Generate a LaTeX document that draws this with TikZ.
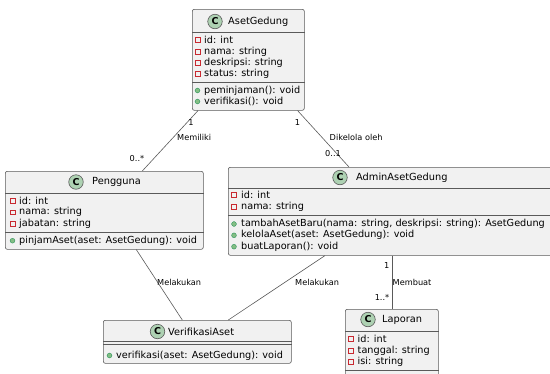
\documentclass[tikz,border=0pt]{standalone}
\usepackage{fontspec}
\setmainfont{DejaVu Sans}
\usetikzlibrary{calc}
\definecolor{linec}{HTML}{5A5A5A}
\definecolor{boxfill}{HTML}{F1F1F1}
\definecolor{cgreen}{HTML}{ADD1B2}
\definecolor{privred}{HTML}{C82930}
\definecolor{pubgreen}{HTML}{84BE84}
\definecolor{pubdark}{HTML}{038048}
\begin{document}
\begin{tikzpicture}[x=1pt,y=-1pt,
  classbox/.style={draw=linec, fill=boxfill, rounded corners=2pt, line width=0.6pt, inner sep=0, anchor=north west},
  cname/.style={font=\fontsize{9.8}{12}\selectfont, anchor=west, inner sep=0},
  member/.style={font=\fontsize{9.7}{11}\selectfont, anchor=west, inner sep=0},
  cicon/.style={circle, draw=linec, fill=cgreen, minimum size=14.5pt, inner sep=0, line width=0.6pt, font=\fontsize{9.5}{9.5}\selectfont\bfseries},
  priv/.style={rectangle, draw=privred, fill=boxfill, minimum width=4.8pt, minimum height=4.8pt, inner sep=0, line width=0.75pt},
  pub/.style={circle, fill=pubgreen, draw=pubdark!70!pubgreen, minimum size=4.8pt, inner sep=0, line width=0.4pt},
  lbl/.style={font=\fontsize{8.2}{10}\selectfont, inner sep=0},
  sep/.style={draw=linec, line width=0.6pt},
  assoc/.style={draw=linec, line width=0.6pt}]
\useasboundingbox (0,0) rectangle (550,373);

% ---------------- AsetGedung
\node[classbox, minimum width=112pt, minimum height=101pt] (ag) at (192,9) {};
\node[cicon] (agc) at (215,21.5) {C};
\node[cname] (agn) at (228,21.5) {AsetGedung};
\draw[sep] (ag.west |- 0,32) -- (ag.east |- 0,32);
\draw[sep] (ag.west |- 0,82) -- (ag.east |- 0,82);
\node[priv] (ag1i) at (197.5,40) {};   \node[member] (ag1) at (204,40) {id: int};
\node[priv] (ag2i) at (197.5,51.5) {}; \node[member] (ag2) at (204,51.5) {nama: string};
\node[priv] (ag3i) at (197.5,63) {};   \node[member] (ag3) at (204,63) {deskripsi: string};
\node[priv] (ag4i) at (197.5,74) {};   \node[member] (ag4) at (204,74) {status: string};
\node[pub] (ag5i) at (197.5,90.5) {};  \node[member] (ag5) at (204,90.5) {peminjaman(): void};
\node[pub] (ag6i) at (197.5,101.5) {}; \node[member] (ag6) at (204,101.5) {verifikasi(): void};

% ---------------- Pengguna
\node[classbox, minimum width=198pt, minimum height=78pt] (pg) at (5,171) {};
\node[cicon] (pgc) at (76,182) {C};
\node[cname] (pgn) at (92,182) {Pengguna};
\draw[sep] (pg.west |- 0,193) -- (pg.east |- 0,193);
\draw[sep] (pg.west |- 0,232) -- (pg.east |- 0,232);
\node[priv] (pg1i) at (12.5,201) {};   \node[member] (pg1) at (19,201) {id: int};
\node[priv] (pg2i) at (12.5,212.3) {}; \node[member] (pg2) at (19,212.3) {nama: string};
\node[priv] (pg3i) at (12.5,223.6) {}; \node[member] (pg3) at (19,223.6) {jabatan: string};
\node[pub] (pg4i) at (12.5,240.7) {};  \node[member] (pg4) at (19,240.7) {pinjamAset(aset: AsetGedung): void};

% ---------------- AdminAsetGedung
\node[classbox, minimum width=326pt, minimum height=88pt] (ad) at (228,167) {};
\node[cicon] (adc) at (340,177.5) {C};
\node[cname] (adn) at (356,177.5) {AdminAsetGedung};
\draw[sep] (ad.west |- 0,188) -- (ad.east |- 0,188);
\draw[sep] (ad.west |- 0,215) -- (ad.east |- 0,215);
\node[priv] (ad1i) at (234,195) {};    \node[member] (ad1) at (241,195) {id: int};
\node[priv] (ad2i) at (234,206.7) {};  \node[member] (ad2) at (241,206.7) {nama: string};
\node[pub] (ad3i) at (234,224) {};     \node[member] (ad3) at (241,224) {tambahAsetBaru(nama: string, deskripsi: string): AsetGedung};
\node[pub] (ad4i) at (234,235.3) {};   \node[member] (ad4) at (241,235.3) {kelolaAset(aset: AsetGedung): void};
\node[pub] (ad5i) at (234,246.7) {};   \node[member] (ad5) at (241,246.7) {buatLaporan(): void};

% ---------------- VerifikasiAset
\node[classbox, minimum width=188pt, minimum height=43pt] (vf) at (103,320) {};
\node[cicon] (vfc) at (157.5,331.5) {C};
\node[cname] (vfn) at (168,331.5) {VerifikasiAset};
\draw[sep] (vf.west |- 0,341.7) -- (vf.east |- 0,341.7);
\draw[sep] (vf.west |- 0,344.3) -- (vf.east |- 0,344.3);
\node[pub] (vf1i) at (109.5,355.5) {}; \node[member] (vf1) at (116,355.5) {verifikasi(aset: AsetGedung): void};

% ---------------- Laporan
\node[classbox, minimum width=93pt, minimum height=75pt] (lp) at (345,309) {};
\node[cicon] (lpc) at (368,319.5) {C};
\node[cname] (lpn) at (382,319.5) {Laporan};
\draw[sep] (lp.west |- 0,331) -- (lp.east |- 0,331);
\draw[sep] (lp.west |- 0,370.5) -- (lp.east |- 0,370.5);
\node[priv] (lp1i) at (351,339) {};    \node[member] (lp1) at (357.5,339) {id: int};
\node[priv] (lp2i) at (351,350.7) {};  \node[member] (lp2) at (357.5,350.7) {tanggal: string};
\node[priv] (lp3i) at (351,362) {};    \node[member] (lp3) at (357.5,362) {isi: string};

% ---------------- connectors
\draw[assoc] ($(ag.south west)+(6,0)$) -- ($(pg.north)+(38,0)$);
\draw[assoc] ($(ag.south east)+(-7,0)$) -- ($(ad.north west)+(121,0)$);
\draw[assoc] ($(pg.south)+(32,0)$) -- ($(vf.north)+(-15,0)$);
\draw[assoc] ($(ad.south west)+(97,0)$) -- ($(vf.north)+(31,0)$);
\draw[assoc] (ad.south -| lp.north) -- (lp.north);

% ---------------- labels
\node[lbl] (l1) at (191,122.7) {1};
\node[lbl, anchor=west] (l2) at (177,137.5) {Memiliki};
\node[lbl] (l3) at (137,158.5) {0..*};
\node[lbl] (l4) at (297.5,122.7) {1};
\node[lbl, anchor=west] (l5) at (329.5,137.5) {Dikelola oleh};
\node[lbl] (l6) at (333,153.5) {0..1};
\node[lbl, anchor=west] (l7) at (157,282) {Melakukan};
\node[lbl, anchor=west] (l8) at (295,282) {Melakukan};
\node[lbl, anchor=east] (l9) at (389.5,266) {1};
\node[lbl, anchor=west] (l10) at (392.5,282) {Membuat};
\node[lbl, anchor=east] (l11) at (389.5,297.5) {1..*};
\end{tikzpicture}
\end{document}
